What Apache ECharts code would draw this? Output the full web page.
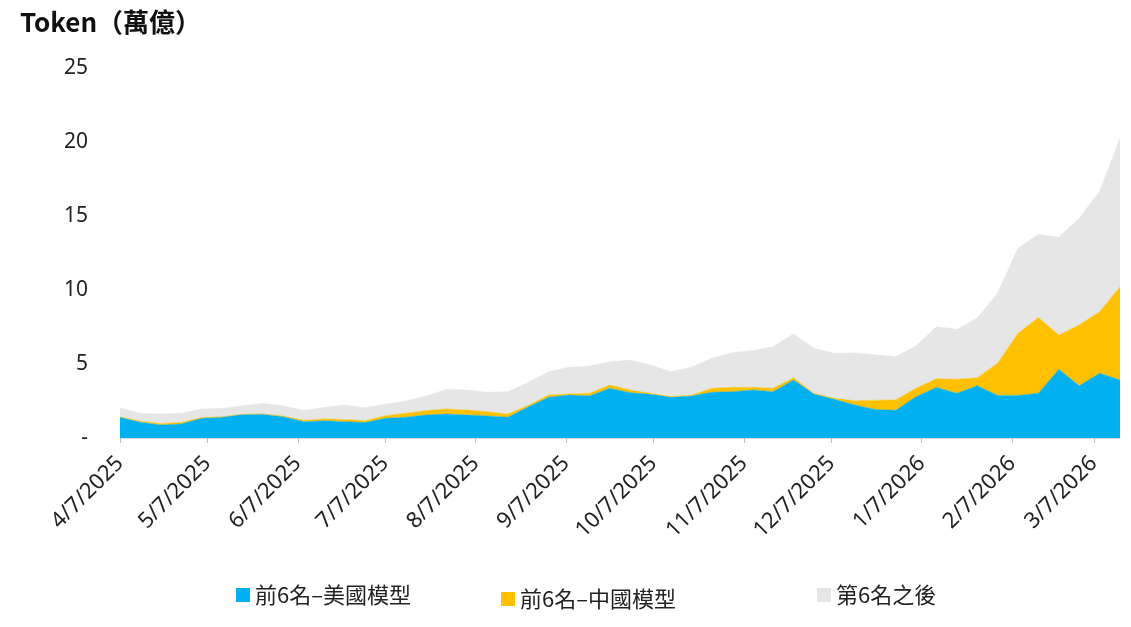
<!DOCTYPE html>
<html>
<head>
<meta charset="utf-8">
<script src="https://cdn.jsdelivr.net/npm/echarts@6/dist/echarts.min.js"></script>
<style>
  html, body { margin: 0; padding: 0; background: #fff; }
  #chart { width: 1131px; height: 627px; }
</style>
</head>
<body>
<div id="chart"></div>
<script>
/* weekly token volume (萬億), stacked */
var weeks = [
  '2025-04-07', '2025-04-14', '2025-04-21', '2025-04-28', '2025-05-05', '2025-05-12', '2025-05-19', '2025-05-26',
  '2025-06-02', '2025-06-09', '2025-06-16', '2025-06-23', '2025-06-30', '2025-07-07', '2025-07-14', '2025-07-21',
  '2025-07-28', '2025-08-04', '2025-08-11', '2025-08-18', '2025-08-25', '2025-09-01', '2025-09-08', '2025-09-15',
  '2025-09-22', '2025-09-29', '2025-10-06', '2025-10-13', '2025-10-20', '2025-10-27', '2025-11-03', '2025-11-10',
  '2025-11-17', '2025-11-24', '2025-12-01', '2025-12-08', '2025-12-15', '2025-12-22', '2025-12-29', '2026-01-05',
  '2026-01-12', '2026-01-19', '2026-01-26', '2026-02-02', '2026-02-09', '2026-02-16', '2026-02-23', '2026-03-02',
  '2026-03-09', '2026-03-16'
];

var usTop6 = [
  1.40, 1.06, 0.88, 0.95, 1.33, 1.40, 1.58, 1.60, 1.44, 1.10,
  1.16, 1.10, 1.04, 1.33, 1.40, 1.55, 1.62, 1.55, 1.49, 1.40,
  2.10, 2.75, 2.90, 2.84, 3.36, 3.06, 2.95, 2.75, 2.84, 3.09,
  3.13, 3.24, 3.13, 3.92, 2.97, 2.61, 2.23, 1.92, 1.87, 2.79,
  3.42, 3.02, 3.53, 2.88, 2.88, 3.02, 4.64, 3.53, 4.37, 3.92
];

var cnTop6 = [
  0.03, 0.08, 0.10, 0.10, 0.05, 0.04, 0.03, 0.03, 0.04, 0.10,
  0.13, 0.15, 0.12, 0.18, 0.27, 0.30, 0.34, 0.34, 0.29, 0.22,
  0.10, 0.15, 0.08, 0.18, 0.22, 0.18, 0.07, 0.05, 0.05, 0.27,
  0.30, 0.19, 0.23, 0.15, 0.05, 0.07, 0.29, 0.63, 0.70, 0.57,
  0.58, 0.95, 0.54, 2.17, 4.19, 5.13, 2.32, 4.11, 4.16, 6.30
];

var others = [
  0.62, 0.53, 0.64, 0.62, 0.58, 0.56, 0.57, 0.70, 0.70, 0.66,
  0.77, 0.98, 0.89, 0.77, 0.83, 0.99, 1.33, 1.35, 1.31, 1.51,
  1.55, 1.58, 1.80, 1.84, 1.58, 2.03, 1.91, 1.68, 1.89, 2.03,
  2.35, 2.47, 2.81, 2.96, 3.04, 3.04, 3.22, 3.08, 2.92, 2.86,
  3.52, 3.37, 4.02, 4.73, 5.75, 5.61, 6.60, 7.20, 8.15, 10.03
];

var tickLabels = [
  '4/7/2025', '5/7/2025', '6/7/2025', '7/7/2025', '8/7/2025', '9/7/2025',
  '10/7/2025', '11/7/2025', '12/7/2025', '1/7/2026', '2/7/2026', '3/7/2026'
];

var seriesNames = ['前6名–美國模型', '前6名–中國模型', '第6名之後'];
var seriesColors = ['#00B0F0', '#FFC000', '#E6E6E6'];

function isoToTime(s) {
  var p = s.split('-');
  return new Date(+p[0], +p[1] - 1, +p[2]).getTime();
}
function mdyToTime(s) {
  var p = s.split('/');
  return new Date(+p[2], +p[0] - 1, +p[1]).getTime();
}
// value first so that stacking runs on the y dimension
function pairs(values) {
  return values.map(function (v, i) { return [v, isoToTime(weeks[i])]; });
}

var tickTimes = tickLabels.map(mdyToTime);
var numFont = '"Noto Sans", "Noto Sans CJK TC", sans-serif';
var cjkFont = '"Noto Sans CJK TC", "Noto Sans", sans-serif';

function makeSeries(idx, values) {
  return {
    name: seriesNames[idx],
    type: 'line',
    stack: 'total',
    symbol: 'none',
    smooth: false,
    data: pairs(values),
    encode: { x: 1, y: 0 },
    lineStyle: { width: 0.5, color: seriesColors[idx] },
    areaStyle: { color: seriesColors[idx], opacity: 1 },
    itemStyle: { color: seriesColors[idx] },
    emphasis: { disabled: true }
  };
}

function legendAt(idx, left, top) {
  return {
    data: [seriesNames[idx]],
    left: left,
    top: top,
    icon: 'rect',
    itemWidth: 14,
    itemHeight: 14,
    itemGap: 6,
    textStyle: { fontSize: 22, color: '#222', fontFamily: cjkFont }
  };
}

var option = {
  animation: false,
  color: seriesColors,
  title: {
    text: 'Token（萬億）',
    left: 15,
    top: 4,
    textStyle: { fontSize: 26, fontWeight: 'bold', color: '#111', fontFamily: cjkFont }
  },
  legend: [
    legendAt(0, 231, 579),
    legendAt(1, 496, 583),
    legendAt(2, 812, 579)
  ],
  grid: { left: 120, right: 11, top: 68, bottom: 189, containLabel: false },
  xAxis: {
    type: 'value',
    min: isoToTime(weeks[0]),
    max: isoToTime(weeks[weeks.length - 1]),
    axisLine: { show: true, lineStyle: { color: '#D9D9D9', width: 1 } },
    axisTick: { show: true, length: 5, customValues: tickTimes, lineStyle: { color: '#BFBFBF' } },
    splitLine: { show: false },
    axisLabel: {
      customValues: tickTimes,
      rotate: 45,
      margin: 22,
      fontSize: 22,
      color: '#222',
      fontFamily: numFont,
      formatter: function (val) {
        var d = new Date(val);
        return (d.getMonth() + 1) + '/' + d.getDate() + '/' + d.getFullYear();
      }
    }
  },
  yAxis: {
    type: 'value',
    min: 0,
    max: 25,
    interval: 5,
    axisLine: { show: false },
    axisTick: { show: false },
    splitLine: { show: false },
    axisLabel: {
      margin: 32,
      fontSize: 21,
      color: '#222',
      fontFamily: numFont,
      formatter: function (v) { return v === 0 ? '-' : String(v); }
    }
  },
  series: [
    makeSeries(0, usTop6),
    makeSeries(1, cnTop6),
    makeSeries(2, others)
  ]
};

var chart = echarts.init(document.getElementById('chart'));
chart.setOption(option);
</script>
</body>
</html>
